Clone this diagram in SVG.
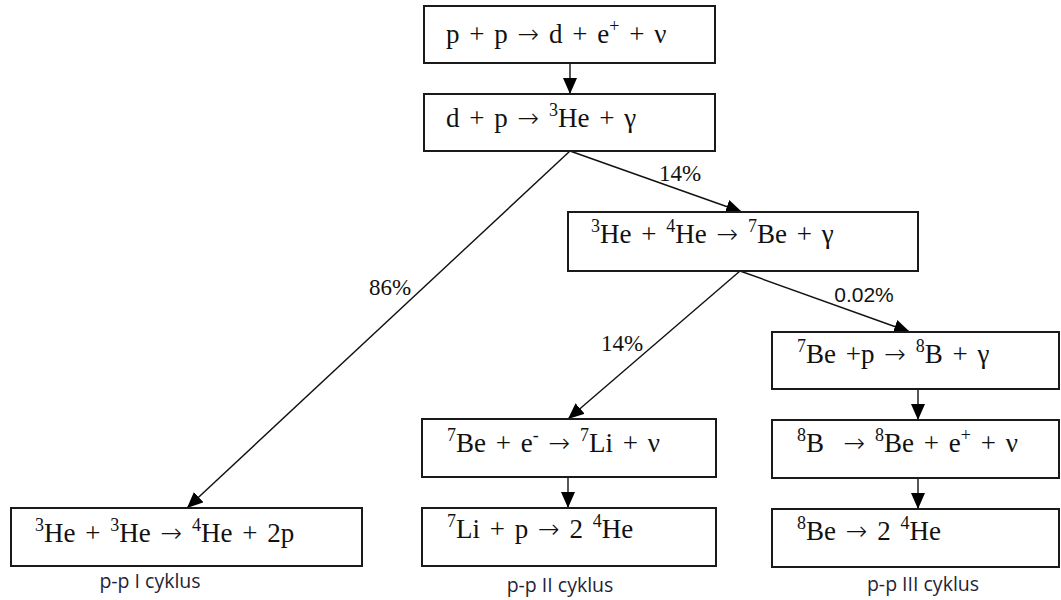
<svg xmlns="http://www.w3.org/2000/svg" width="1061" height="600" viewBox="0 0 1061 600">
<style>
.box{fill:#fff;stroke:#1a1a1a;stroke-width:2}
.eq{font-family:"Liberation Serif","Times New Roman",serif;font-size:27px;fill:#111;word-spacing:3px}
.sup{font-size:18px}
.ar{font-family:"DejaVu Sans",sans-serif;font-size:26px;font-weight:300}
.cyc{font-family:"Open Sans","Liberation Sans",sans-serif;font-size:19.5px;fill:#1f2438}
.con line{stroke:#111;stroke-width:1.4;fill:none}
</style>
<defs>
<marker id="ah" markerUnits="userSpaceOnUse" markerWidth="18" markerHeight="16" refX="16" refY="7" orient="auto">
<path d="M0,0 L16,7 L0,14 Z" fill="#000"/>
</marker>
</defs>
<rect width="1061" height="600" fill="#fff"/>
<g class="con">
<line x1="570" y1="63" x2="570" y2="94" marker-end="url(#ah)"/>
<line x1="570" y1="151" x2="742" y2="212" marker-end="url(#ah)"/>
<line x1="570" y1="151" x2="187" y2="508" marker-end="url(#ah)"/>
<line x1="740" y1="271" x2="568" y2="419" marker-end="url(#ah)"/>
<line x1="740" y1="271" x2="910" y2="332" marker-end="url(#ah)"/>
<line x1="568" y1="477" x2="568" y2="508" marker-end="url(#ah)"/>
<line x1="918" y1="389" x2="918" y2="420" marker-end="url(#ah)"/>
<line x1="918" y1="478" x2="918" y2="509" marker-end="url(#ah)"/>
</g>
<g id="pcts">
<text font-family="Liberation Serif, Times New Roman, serif" font-size="23" fill="#111" x="680" y="181" text-anchor="middle">14%</text>
<text font-family="Liberation Serif, Times New Roman, serif" font-size="23" fill="#111" x="390" y="295" text-anchor="middle">86%</text>
<text font-family="Liberation Sans, Arial, sans-serif" font-size="21" fill="#111" x="864" y="302" text-anchor="middle">0.02%</text>
<text font-family="Liberation Serif, Times New Roman, serif" font-size="23" fill="#111" x="622" y="351" text-anchor="middle">14%</text>
</g>
<g id="n1"><rect class="box" x="424" y="6" width="291" height="57"/>
<text class="eq" x="446" y="43">p + p <tspan class="ar">→</tspan> d + e<tspan class="sup" dy="-11">+</tspan><tspan dy="11"> + ν</tspan></text></g>
<g id="n2"><rect class="box" x="424" y="94" width="291" height="57"/>
<text class="eq" x="446" y="127">d + p <tspan class="ar">→</tspan> <tspan class="sup" dy="-11">3</tspan><tspan dy="11">He + γ</tspan></text></g>
<g id="n3"><rect class="box" x="568" y="212" width="350" height="59"/>
<text class="eq" x="591" y="243"><tspan class="sup" dy="-11">3</tspan><tspan dy="11">He + </tspan><tspan class="sup" dy="-11">4</tspan><tspan dy="11">He </tspan><tspan class="ar">→</tspan> <tspan class="sup" dy="-11">7</tspan><tspan dy="11">Be + γ</tspan></text></g>
<g id="n4"><rect class="box" x="772" y="332" width="287" height="57"/>
<text class="eq" x="797" y="363"><tspan class="sup" dy="-11">7</tspan><tspan dy="11">Be +p </tspan><tspan class="ar">→</tspan> <tspan class="sup" dy="-11">8</tspan><tspan dy="11">B + γ</tspan></text></g>
<g id="n5"><rect class="box" x="772" y="420" width="287" height="58"/>
<text class="eq" x="797" y="452"><tspan class="sup" dy="-11">8</tspan><tspan dy="11" xml:space="preserve">B  </tspan><tspan class="ar">→</tspan> <tspan class="sup" dy="-11">8</tspan><tspan dy="11">Be + e</tspan><tspan class="sup" dy="-11">+</tspan><tspan dy="11"> + ν</tspan></text></g>
<g id="n6"><rect class="box" x="772" y="509" width="287" height="58"/>
<text class="eq" x="797" y="540"><tspan class="sup" dy="-11">8</tspan><tspan dy="11">Be </tspan><tspan class="ar">→</tspan> 2 <tspan class="sup" dy="-11">4</tspan><tspan dy="11">He</tspan></text></g>
<g id="n7"><rect class="box" x="422" y="419" width="294" height="58"/>
<text class="eq" x="447" y="452"><tspan class="sup" dy="-11">7</tspan><tspan dy="11">Be + e</tspan><tspan class="sup" dy="-11">-</tspan><tspan dy="11"> </tspan><tspan class="ar">→</tspan> <tspan class="sup" dy="-11">7</tspan><tspan dy="11">Li + ν</tspan></text></g>
<g id="n8"><rect class="box" x="422" y="508" width="294" height="58"/>
<text class="eq" x="447" y="538"><tspan class="sup" dy="-11">7</tspan><tspan dy="11">Li + p </tspan><tspan class="ar">→</tspan> 2 <tspan class="sup" dy="-11">4</tspan><tspan dy="11">He</tspan></text></g>
<g id="n9"><rect class="box" x="11" y="508" width="351" height="58"/>
<text class="eq" x="35" y="542"><tspan class="sup" dy="-11">3</tspan><tspan dy="11">He + </tspan><tspan class="sup" dy="-11">3</tspan><tspan dy="11">He </tspan><tspan class="ar">→</tspan> <tspan class="sup" dy="-11">4</tspan><tspan dy="11">He + 2p</tspan></text></g>
<g id="labels">
<text class="cyc" x="150" y="588" text-anchor="middle">p-p I cyklus</text>
<text class="cyc" x="560" y="592" text-anchor="middle">p-p II cyklus</text>
<text class="cyc" x="923" y="591" text-anchor="middle">p-p III cyklus</text>
</g>
</svg>
